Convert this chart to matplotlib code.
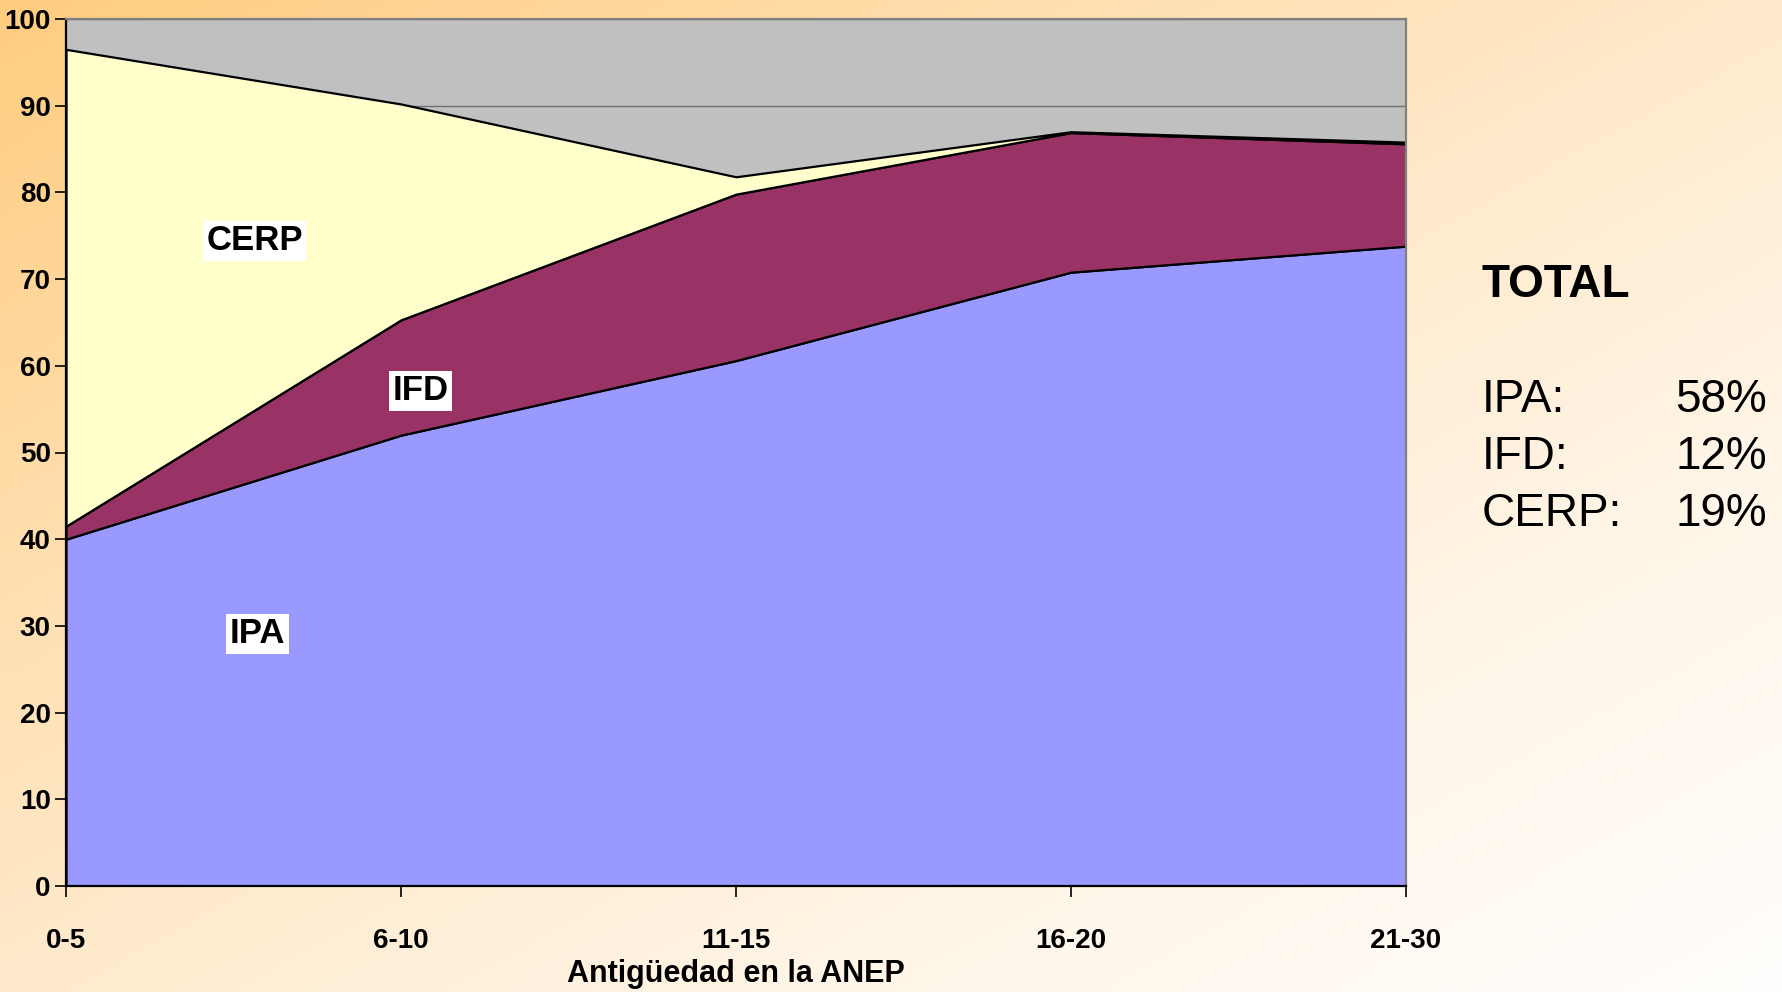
import matplotlib.pyplot as plt
import numpy as np
from matplotlib.colors import LinearSegmentedColormap

categories = ["0-5", "6-10", "11-15", "16-20", "21-30"]
ipa = [40.0, 52.0, 60.6, 70.8, 73.8]
ifd = [1.5, 13.3, 19.2, 16.1, 11.8]
cerp = [55.0, 24.9, 2.0, 0.1, 0.2]

totals_names = ["IPA:", "IFD:", "CERP:"]
totals_values = ["58%", "12%", "19%"]

plt.rcParams["font.family"] = ["Liberation Sans", "DejaVu Sans"]

fig = plt.figure(figsize=(17.82, 9.92), dpi=100)

# background gradient (top-left orange to white)
bg = fig.add_axes([0, 0, 1, 1], zorder=-10)
gx, gy = np.meshgrid(np.linspace(0, 1, 400), np.linspace(0, 1, 220))
t = (gx + gy) / 2
cmap = LinearSegmentedColormap.from_list(
    "bg", [(0.0, "#FFCC80"), (0.25, "#FFDCA8"), (0.5, "#FFEACC"),
           (0.75, "#FFF6EA"), (1.0, "#FFFEFC")])
bg.imshow(t, cmap=cmap, aspect="auto", extent=[0, 1, 0, 1], origin="upper")
bg.axis("off")

ax = fig.add_axes([66 / 1782, 1 - 886 / 992, 1340 / 1782, 867 / 992])
ax.set_facecolor("#C0C0C0")
x = np.arange(len(categories))
ax.stackplot(x, ipa, ifd, cerp, colors=["#9999FF", "#993366", "#FFFFCC"],
             edgecolor="black", linewidth=1.6, zorder=2)

ax.set_xlim(0, len(categories) - 1)
ax.set_ylim(0, 100)
ax.set_yticks(range(0, 101, 10))
ax.set_xticks(x)
ax.set_xticklabels(categories)
ax.grid(axis="y", color="#707070", linewidth=1)
ax.set_axisbelow(True)

for lbl in ax.get_yticklabels():
    lbl.set_fontweight("bold")
    lbl.set_fontsize(20)
for lbl in ax.get_xticklabels():
    lbl.set_fontweight("bold")
    lbl.set_fontsize(20)
ax.tick_params(axis="y", length=8, width=1.2, pad=3)
ax.tick_params(axis="x", length=8, width=1.2, pad=22)

for s in ["left", "bottom"]:
    ax.spines[s].set_color("black")
    ax.spines[s].set_linewidth(1.6)
for s in ["top", "right"]:
    ax.spines[s].set_color("#808080")
    ax.spines[s].set_linewidth(1.6)

ax.set_xlabel("Antigüedad en la ANEP", fontsize=22, fontweight="bold")
ax.xaxis.set_label_coords(0.5, -0.1015)
ax.xaxis.label.set_va("center")

box = dict(facecolor="white", edgecolor="none", boxstyle="square,pad=0.1")
ax.text(0.563, 74.4, "CERP", fontsize=25, fontweight="bold", ha="center", va="center", bbox=box, zorder=5)
ax.text(1.059, 57.1, "IFD", fontsize=25, fontweight="bold", ha="center", va="center", bbox=box, zorder=5)
ax.text(0.572, 29.1, "IPA", fontsize=25, fontweight="bold", ha="center", va="center", bbox=box, zorder=5)

fig.text(1482 / 1782, 1 - 297 / 992, "TOTAL", fontsize=33, fontweight="bold", va="baseline")
for i, (name, val) in enumerate(zip(totals_names, totals_values)):
    yb = 1 - (412 + 57 * i) / 992
    fig.text(1482 / 1782, yb, name, fontsize=33, va="baseline")
    fig.text(1767 / 1782, yb, val, fontsize=33, va="baseline", ha="right")

fig.savefig("out.png", dpi=100)
